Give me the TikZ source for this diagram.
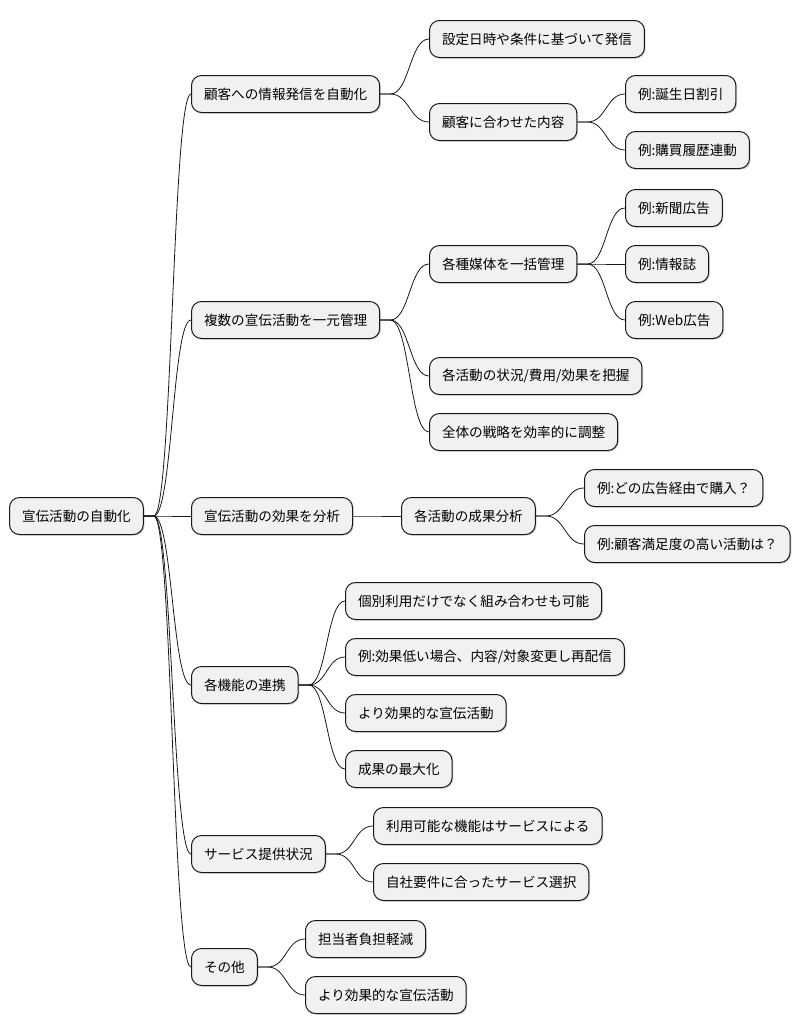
\documentclass[tikz,border=0pt]{standalone}
\usepackage{fontspec}
\setmainfont{Noto Sans CJK JP}
\usetikzlibrary{calc,shadows}
\definecolor{mmFill}{HTML}{F1F1F1}
\definecolor{mmLine}{HTML}{181818}
\tikzset{
  mmbox/.style={draw=mmLine,fill=mmFill,line width=1pt,rounded corners=10pt,
    anchor=west,inner xsep=12.5pt,minimum height=37pt,
    font=\fontsize{13.6}{16}\selectfont,
    drop shadow={shadow xshift=1.2pt,shadow yshift=-1.2pt,opacity=0.18,fill=black}},
  mmline/.style={draw=mmLine,line width=0.8pt}
}
% parent -> child, short stem then S-curve
\newcommand\mmlink[2]{%
  \draw[mmline] let \p1=($(#1.east)+(10pt,0)$), \p2=(#2.west) in
    (#1.east) -- (\p1) .. controls ({(\x1+\x2)/2},\y1) and ({(\x1+\x2)/2},\y2) .. (\p2);}

\begin{document}
\begin{tikzpicture}[x=1pt,y=-1pt]
  \useasboundingbox (0,0) rectangle (801,1034);

  % root
  \node[mmbox] (root) at (9,516) {宣伝活動の自動化};

  % level 1
  \node[mmbox] (cust)  at (191,94)  {顧客への情報発信を自動化};
  \node[mmbox] (multi) at (191,320) {複数の宣伝活動を一元管理};
  \node[mmbox] (anal)  at (191,516) {宣伝活動の効果を分析};
  \node[mmbox] (coop)  at (191,685) {各機能の連携};
  \node[mmbox] (serv)  at (191,854) {サービス提供状況};
  \node[mmbox] (misc)  at (191,967) {その他};

  % customer branch
  \node[mmbox] (custA)  at (429,39)  {設定日時や条件に基づいて発信};
  \node[mmbox] (custB)  at (429,122) {顧客に合わせた内容};
  \node[mmbox] (custBa) at (625,94)  {例:誕生日割引};
  \node[mmbox] (custBb) at (625,150) {例:購買履歴連動};

  % multi branch
  \node[mmbox] (media)  at (429,264) {各種媒体を一括管理};
  \node[mmbox] (mediaA) at (625,208) {例:新聞広告};
  \node[mmbox] (mediaB) at (625,264) {例:情報誌};
  \node[mmbox] (mediaC) at (625,320) {例:Web広告};
  \node[mmbox] (multiB) at (429,376) {各活動の状況/費用/効果を把握};
  \node[mmbox] (multiC) at (429,432) {全体の戦略を効率的に調整};

  % analysis branch
  \node[mmbox] (res)  at (401,516) {各活動の成果分析};
  \node[mmbox] (resA) at (584,488) {例:どの広告経由で購入？};
  \node[mmbox] (resB) at (584,544) {例:顧客満足度の高い活動は？};

  % cooperation branch
  \node[mmbox] (coopA) at (345,601) {個別利用だけでなく組み合わせも可能};
  \node[mmbox] (coopB) at (345,657) {例:効果低い場合、内容/対象変更し再配信};
  \node[mmbox] (coopC) at (345,713) {より効果的な宣伝活動};
  \node[mmbox] (coopD) at (345,769) {成果の最大化};

  % service branch
  \node[mmbox] (servA) at (373,826) {利用可能な機能はサービスによる};
  \node[mmbox] (servB) at (373,882) {自社要件に合ったサービス選択};

  % misc branch
  \node[mmbox] (miscA) at (305,939) {担当者負担軽減};
  \node[mmbox] (miscB) at (305,995) {より効果的な宣伝活動};

  % connectors
  \foreach \src/\dst in {root/cust,root/multi,root/anal,root/coop,root/serv,root/misc,
      cust/custA,cust/custB,custB/custBa,custB/custBb,
      multi/media,multi/multiB,multi/multiC,media/mediaA,media/mediaB,media/mediaC,
      anal/res,res/resA,res/resB,
      coop/coopA,coop/coopB,coop/coopC,coop/coopD,
      serv/servA,serv/servB,misc/miscA,misc/miscB}
    {\mmlink{\src}{\dst}}
\end{tikzpicture}
\end{document}
